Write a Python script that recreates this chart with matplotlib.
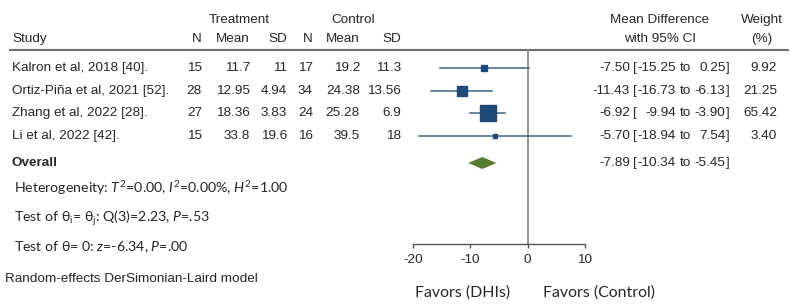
import matplotlib
matplotlib.use("Agg")
import matplotlib.pyplot as plt
import numpy as np

plt.rcParams['mathtext.fontset'] = 'custom'
plt.rcParams['mathtext.rm'] = 'Lato'
plt.rcParams['mathtext.it'] = 'Lato:italic'
plt.rcParams['axes.unicode_minus'] = False

# data
studies = ['Kalron et al, 2018 [40].', 'Ortiz-Piña et al, 2021 [52].',
           'Zhang et al, 2022 [28].', 'Li et al, 2022 [42].']
n_trt = [15, 28, 27, 15]
mean_trt = ['11.7', '12.95', '18.36', '33.8']
sd_trt = ['11', '4.94', '3.83', '19.6']
n_ctl = [17, 34, 24, 16]
mean_ctl = ['19.2', '24.38', '25.28', '39.5']
sd_ctl = ['11.3', '13.56', '6.9', '18']
md = [-7.50, -11.43, -6.92, -5.70]
ci_lo = [-15.25, -16.73, -9.94, -18.94]
ci_hi = [0.25, -6.13, -3.90, 7.54]
weight = [9.92, 21.25, 65.42, 3.40]
overall = (-7.89, -10.34, -5.45)
xticks = [-20, -10, 0, 10]

TXT = '#262626'
SANS = 'Liberation Sans'
CAL = ['Lato', 'DejaVu Sans']
FS = 9.7

fig = plt.figure(figsize=(8, 3.06), dpi=100)

# full-figure axes in pixel units for the table text
at = fig.add_axes([0, 0, 1, 1])
at.set_xlim(0, 800)
at.set_ylim(306, 0)
at.axis('off')

# forest axes: rows in index units
row0, step = 68, 22.6
ax = fig.add_axes([412.7 / 800, 1 - 244 / 306, (585 - 412.7) / 800, (244 - 49) / 306])
ax.set_xlim(-20, 10)
ax.set_ylim((244 - row0) / step, (49 - row0) / step)
ax.patch.set_alpha(0)

def rowpx(i):
    return row0 + step * i

# header
at.text(239, 20, 'Treatment', ha='center', va='center', fontsize=FS, family=SANS, color=TXT)
at.text(353, 20, 'Control', ha='center', va='center', fontsize=FS, family=SANS, color=TXT)
at.text(660, 20, 'Mean Difference', ha='center', va='center', fontsize=FS, family=SANS, color=TXT)
at.text(660, 39, 'with 95% CI', ha='center', va='center', fontsize=FS, family=SANS, color=TXT)
at.text(762, 20, 'Weight', ha='center', va='center', fontsize=FS, family=SANS, color=TXT)
at.text(762, 39, '(%)', ha='center', va='center', fontsize=FS, family=SANS, color=TXT)
at.text(12, 39, 'Study', ha='left', va='center', fontsize=FS, family=SANS, color=TXT)
col_right = [202, 250, 287, 313, 360, 401]
for x, lab in zip(col_right, ['N', 'Mean', 'SD', 'N', 'Mean', 'SD']):
    at.text(x, 39, lab, ha='right', va='center', fontsize=FS, family=SANS, color=TXT)
at.plot([9, 789], [49.5, 49.5], color='#6e6e6e', lw=1.5, solid_capstyle='butt')

def ci_text(y, m, lo, hi):
    kw = dict(va='center', fontsize=FS, family=SANS, color=TXT)
    at.text(630, y, f'{m:.2f}', ha='right', **kw)
    at.text(633.5, y, '[', ha='left', **kw)
    at.text(676, y, f'{lo:.2f}', ha='right', **kw)
    at.text(679.5, y, 'to', ha='left', **kw)
    at.text(725.5, y, f'{hi:.2f}', ha='right', **kw)
    at.text(725.5, y, ']', ha='left', **kw)

for i, s in enumerate(studies):
    y = rowpx(i)
    at.text(12, y, s, ha='left', va='center', fontsize=FS, family=SANS, color=TXT)
    vals = [str(n_trt[i]), mean_trt[i], sd_trt[i], str(n_ctl[i]), mean_ctl[i], sd_ctl[i]]
    for x, v in zip(col_right, vals):
        at.text(x, y, v, ha='right', va='center', fontsize=FS, family=SANS, color=TXT)
    ci_text(y, md[i], ci_lo[i], ci_hi[i])
    at.text(777, y, f'{weight[i]:.2f}', ha='right', va='center', fontsize=FS, family=SANS, color=TXT)

    ax.plot([ci_lo[i], ci_hi[i]], [i, i], color='#3f6585', lw=1.1, zorder=2)
    ax.plot(md[i], i, marker='s', color='#1f4a78', ms=1.44 * np.sqrt(weight[i]), mec='#1f4a78', zorder=3)

# overall
yo = (163 - row0) / step
at.text(12, 163, 'Overall', ha='left', va='center', fontsize=FS, family=SANS, weight='bold', color=TXT)
ci_text(163, *overall)
m, lo, hi = overall
h = 6 / step
ax.fill([lo, m, hi, m], [yo, yo - h, yo, yo + h], color='#567d2e', lw=0, zorder=3)

# zero line and axis
ax.axvline(0, color='#7a7a7a', lw=1.1, zorder=1)
for sp in ['top', 'right', 'left']:
    ax.spines[sp].set_visible(False)
ax.spines['bottom'].set_color('#555555')
ax.spines['bottom'].set_linewidth(1.0)
ax.set_yticks([])
ax.set_xticks(xticks)
ax.tick_params(axis='x', direction='out', length=3, width=1.0, color='#555555',
               labelsize=FS, labelcolor=TXT, pad=4)
for lab in ax.get_xticklabels():
    lab.set_family(SANS)

# heterogeneity notes
at.text(14, 188, r'Heterogeneity: $T^2$=0.00, $I^2$=0.00%, $H^2$=1.00',
        ha='left', va='center', fontsize=10.2, family=CAL, color=TXT)
at.text(14, 218, r'Test of θ$_\mathrm{i}$= θ$_\mathrm{j}$: Q(3)=2.23, $P$=.53',
        ha='left', va='center', fontsize=10.2, family=CAL, color=TXT)
at.text(14, 247, r'Test of θ= 0: $z$=-6.34, $P$=.00',
        ha='left', va='center', fontsize=10.2, family=CAL, color=TXT)
at.text(5, 279, 'Random-effects DerSimonian-Laird model',
        ha='left', va='center', fontsize=FS, family=SANS, color=TXT)

at.text(415, 293, 'Favors (DHIs)', ha='left', va='center', fontsize=11.4, family=CAL, color=TXT)
at.text(543, 293, 'Favors (Control)', ha='left', va='center', fontsize=11.4, family=CAL, color=TXT)

fig.savefig('out.png', dpi=100)
